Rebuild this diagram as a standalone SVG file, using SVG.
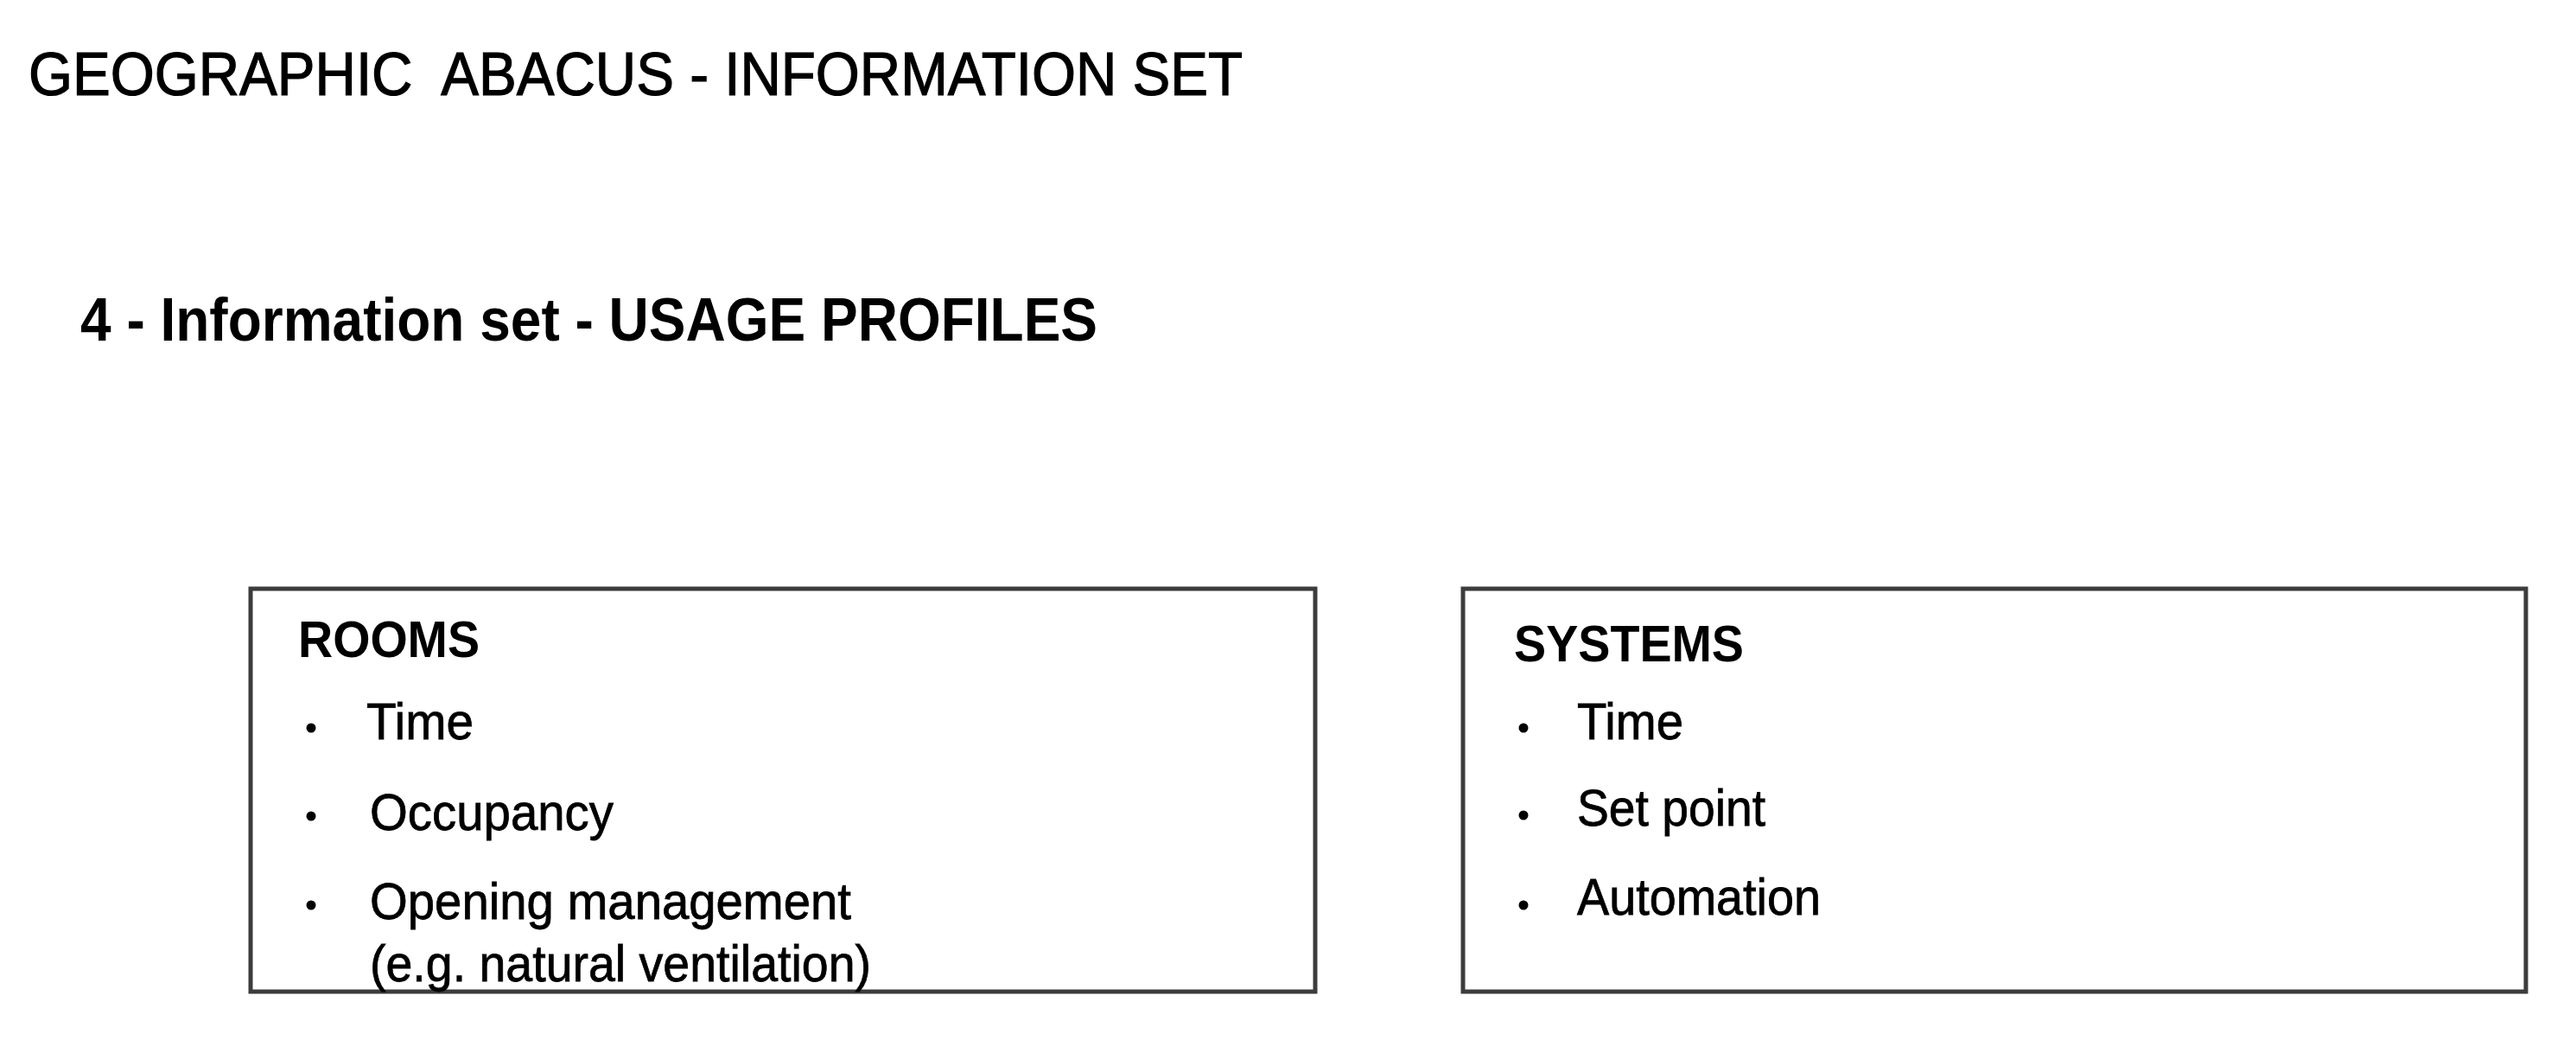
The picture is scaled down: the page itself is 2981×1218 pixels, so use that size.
<svg xmlns="http://www.w3.org/2000/svg" width="2981" height="1218" viewBox="0 0 2981 1218">
<style>
.t{font-family:"Liberation Sans",Arial,sans-serif;fill:#000}
.title{font-size:71px;stroke:#000;stroke-width:1.2}
.sub{font-size:70px;font-weight:bold}
.hd{font-size:60px;font-weight:bold}
.it{font-size:60px;stroke:#000;stroke-width:0.8}
.box{fill:#fff;stroke:#3c3c3c;stroke-width:5}
.bul{fill:#000}
</style>
<rect width="2981" height="1218" fill="#fff"/>
<g id="title">
<text class="t title" x="33" y="110" textLength="1405" lengthAdjust="spacingAndGlyphs" xml:space="preserve">GEOGRAPHIC  ABACUS - INFORMATION SET</text>
</g>
<g id="subtitle">
<text class="t sub" x="93" y="394" textLength="1177" lengthAdjust="spacingAndGlyphs">4 - Information set - USAGE PROFILES</text>
</g>
<g id="connectors"></g>
<g id="rooms">
<rect class="box" x="290" y="681" width="1232" height="466"/>
<text class="t hd" x="345" y="760" textLength="210" lengthAdjust="spacingAndGlyphs">ROOMS</text>
<circle class="bul" cx="360" cy="842" r="5.5"/>
<text class="t it" x="424" y="855" textLength="124" lengthAdjust="spacingAndGlyphs">Time</text>
<circle class="bul" cx="360" cy="944" r="5.5"/>
<text class="t it" x="428" y="960" textLength="282" lengthAdjust="spacingAndGlyphs">Occupancy</text>
<circle class="bul" cx="360" cy="1047" r="5.5"/>
<text class="t it" x="428" y="1063" textLength="557" lengthAdjust="spacingAndGlyphs">Opening management</text>
<text class="t it" x="428" y="1135" textLength="580" lengthAdjust="spacingAndGlyphs">(e.g. natural ventilation)</text>
</g>
<g id="systems">
<rect class="box" x="1693" y="681" width="1230" height="466"/>
<text class="t hd" x="1752" y="765" textLength="266" lengthAdjust="spacingAndGlyphs">SYSTEMS</text>
<circle class="bul" cx="1763" cy="842" r="5.5"/>
<text class="t it" x="1825" y="855" textLength="123" lengthAdjust="spacingAndGlyphs">Time</text>
<circle class="bul" cx="1763" cy="943" r="5.5"/>
<text class="t it" x="1825" y="955" textLength="218" lengthAdjust="spacingAndGlyphs">Set point</text>
<circle class="bul" cx="1763" cy="1047" r="5.5"/>
<text class="t it" x="1825" y="1058" textLength="282" lengthAdjust="spacingAndGlyphs">Automation</text>
</g>
</svg>
